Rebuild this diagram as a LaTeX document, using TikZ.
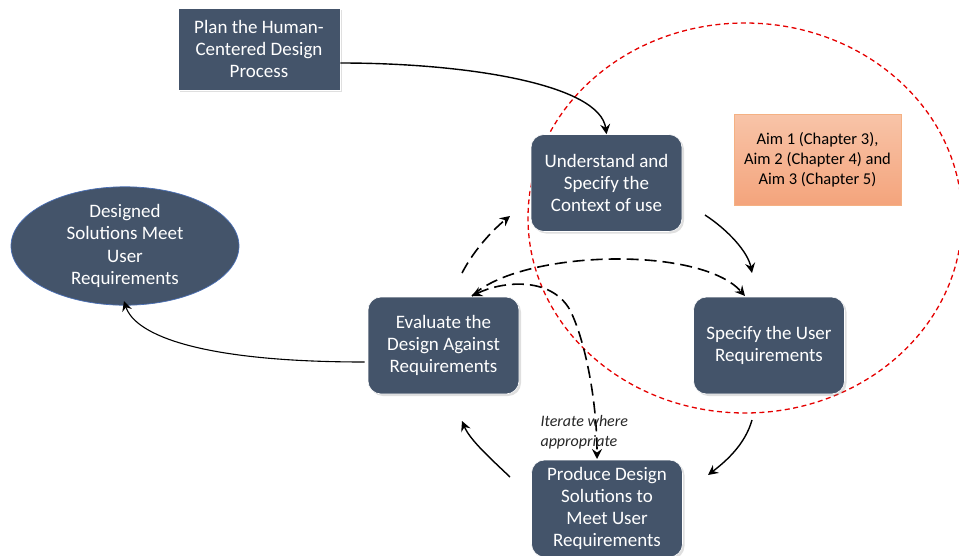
\documentclass[tikz,border=0pt]{standalone}
\usepackage{fontspec}
\setmainfont{Carlito}
\usetikzlibrary{arrows.meta,shadows,shapes.geometric,calc}
\definecolor{slate}{HTML}{44546A}
\definecolor{aimtop}{HTML}{F8C4A8}
\definecolor{aimbot}{HTML}{F4A47C}
\definecolor{aimedge}{HTML}{F4B183}
\definecolor{elledge}{HTML}{4A6FB5}
\tikzset{
  procbox/.style={fill=slate, draw=white, line width=0.6pt, text=white, align=center,
    minimum width=151pt, minimum height=97pt, rounded corners=13pt,
    font=\fontsize{19}{21.8}\selectfont,
    drop shadow={opacity=0.25, shadow xshift=2pt, shadow yshift=-2pt}},
  flow/.style={line width=1.4pt, -{Stealth[length=10pt,width=10pt,inset=3.5pt]}},
  iter/.style={line width=1.6pt, dash pattern=on 12pt off 6pt, -{Stealth[length=10pt,width=10pt,inset=3.5pt]}},
}
\begin{document}
\begin{tikzpicture}[x=1pt,y=-1pt]
\useasboundingbox (0,0) rectangle (959,555);
\begin{scope}
\clip (0,0) rectangle (959,555);
% red dashed region
\draw[red!90!black, line width=1.3pt, dash pattern=on 5pt off 3.5pt] (745,218) ellipse [x radius=217pt, y radius=195pt];

\node[procbox, rounded corners=0pt, minimum width=162pt, minimum height=82pt] (plan) at (259,49)
  {Plan the Human-\\Centered Design\\Process};
\node[procbox] (understand) at (606.5,183) {Understand and\\Specify the\\Context of use};
\node[procbox] (specify) at (769,345.5) {Specify the User\\Requirements};
\node[procbox] (evaluate) at (443.5,345.5) {Evaluate the\\Design Against\\Requirements};
\node[procbox, minimum height=97pt] (produce) at (607,508.5) {Produce Design\\Solutions to\\Meet User\\Requirements};
\node[ellipse, fill=slate, draw=elledge, line width=0.7pt, text=white, align=center,
  minimum width=228pt, minimum height=98pt, inner sep=0pt,
  font=\fontsize{19}{22.5}\selectfont] (designed) at (125,246)
  {Designed\\Solutions Meet\\User\\Requirements};
\node[draw=aimedge, line width=0.8pt, top color=aimtop, bottom color=aimbot, text=black, align=center,
  minimum width=167pt, minimum height=91pt, font=\fontsize{16.5}{20}\selectfont] (aim) at (817.5,159.5)
  {Aim 1 (Chapter 3),\\Aim 2 (Chapter 4) and\\Aim 3 (Chapter 5)};

% connector coordinates
\coordinate (planout) at ($(plan.east)+(0,14)$);
\coordinate (undin) at (understand.north);
\coordinate (u1) at (705,215);
\coordinate (s1) at (752,273);
\coordinate (s2) at (752,420);
\coordinate (p1) at (708,475);
\coordinate (p2) at (510,477);
\coordinate (e1) at (462,421);
\coordinate (e2) at (462,273);
\coordinate (u2) at (510,216);
\coordinate (evtop) at (472,296);
\coordinate (sptop) at (745,296);
\coordinate (prtop) at (597,459);
\coordinate (evleft) at ($(evaluate.west)+(-3,16.5)$);
\coordinate (desbot) at (124,301);

\draw[flow] (planout) .. controls (470,63) and (600,85) .. (undin);
\draw[flow] (u1) .. controls (728,230) and (748,252) .. (s1);
\draw[flow] (s2) .. controls (745,445) and (725,462) .. (p1);
\draw[flow] (p2) .. controls (490,458) and (470,440) .. (e1);
\draw[iter] (e2) .. controls (475,248) and (495,228) .. (u2);
\draw[line width=1.1pt, -{Stealth[length=10pt,width=10pt,inset=3.5pt]}] (evleft) .. controls (200,362) and (135,335) .. (desbot);
\draw[iter] (evtop) .. controls (520,250) and (700,245) .. (sptop);
\draw[iter, {Stealth[length=10pt,width=10pt,inset=3.5pt]}-{Stealth[length=10pt,width=10pt,inset=3.5pt]}] (evtop) .. controls (500,282) and (550,275) .. (570,310)
  .. controls (585,340) and (597,400) .. (prtop);

\node[anchor=west, align=left, text=black!85, font=\fontsize{16}{19.5}\itshape] (iterate) at (537,432)
  {Iterate where\\appropriate};
\end{scope}
\end{tikzpicture}
\end{document}
